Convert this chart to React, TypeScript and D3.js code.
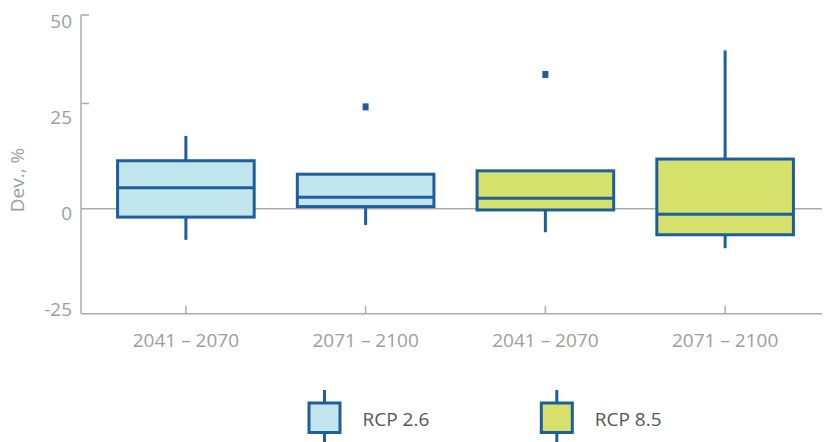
import React from "react";
import * as d3 from "d3";

// Period labels along the x axis, one per box
const categories = ["2041 – 2070", "2071 – 2100", "2041 – 2070", "2071 – 2100"];
// Scenario each box belongs to
const scenarios = ["RCP 2.6", "RCP 2.6", "RCP 8.5", "RCP 8.5"];
// Five-number summaries (deviation, %)
const mins = [-7.4, -3.9, -5.6, -9.4];
const q1s = [-2.0, 0.5, -0.3, -6.2];
const medians = [5.0, 2.7, 2.5, -1.3];
const q3s = [11.4, 8.2, 9.0, 11.8];
const maxs = [17.3, 8.2, 9.0, 40.0];
// Single outliers (null where none)
const outliers: (number | null)[] = [null, 24.2, 33.2, null];
// Y axis ticks
const yTicks = [-25, 0, 25, 50];
// Legend entries
const legendItems = ["RCP 2.6", "RCP 8.5"];

const W = 824;
const H = 442;
const FONT = "'Open Sans', sans-serif";
const TEXT = "#9d9d9d";
const AXIS = "#ababab";
const STROKE = "#1f5e9c";
const fills: Record<string, string> = {
  "RCP 2.6": "#c2e6ee",
  "RCP 8.5": "#d5e16a",
};

export default function App() {
  const axisX = 81;
  const axisRight = 822;

  const y = d3
    .scaleLinear()
    .domain([-25, 0, 25, 50])
    .range([313.8, 208.7, 103.5, 15]);
  const yLabel = d3.scaleLinear().domain([-25, 50]).range([308.5, 21]);

  const x = d3
    .scaleBand<number>()
    .domain(categories.map((_, i) => i))
    .range([96, 815])
    .paddingInner(0.24)
    .paddingOuter(0.12);

  const boxW = x.bandwidth();

  return (
    <svg
      width={W}
      height={H}
      style={{ position: "absolute", left: 0, top: 0, fontFamily: FONT }}
    >
      {/* zero reference line */}
      <line x1={axisX} x2={axisRight} y1={y(0)} y2={y(0)} stroke={AXIS} strokeWidth={1.5} />

      {/* y axis */}
      <line x1={axisX} x2={axisX} y1={y(50)} y2={y(-25)} stroke={AXIS} strokeWidth={1.5} />
      {yTicks.map((t) => (
        <g key={t}>
          {t > 0 && (
            <line x1={axisX} x2={axisX + 8} y1={y(t)} y2={y(t)} stroke={AXIS} strokeWidth={1.5} />
          )}
          <text
            x={72}
            y={yLabel(t)}
            textAnchor="end"
            dominantBaseline="central"
            fontSize={19}
            fill={TEXT}
          >
            {t}
          </text>
        </g>
      ))}
      <text
        transform={`translate(24,180) rotate(-90)`}
        textAnchor="middle"
        fontSize={19}
        fill={TEXT}
      >
        Dev., %
      </text>

      {/* x axis */}
      <line x1={axisX} x2={axisRight} y1={y(-25)} y2={y(-25)} stroke={AXIS} strokeWidth={1.5} />
      {categories.map((c, i) => {
        const cx = (x(i) as number) + boxW / 2;
        return (
          <g key={i}>
            <line x1={cx} x2={cx} y1={y(-25)} y2={y(-25) - 8} stroke={AXIS} strokeWidth={1.5} />
            <text x={cx} y={347} textAnchor="middle" fontSize={19} fill={TEXT}>
              {c}
            </text>
          </g>
        );
      })}

      {/* boxes */}
      {categories.map((_, i) => {
        const x0 = x(i) as number;
        const cx = x0 + boxW / 2;
        return (
          <g key={i}>
            {maxs[i] > q3s[i] && (
              <line x1={cx} x2={cx} y1={y(maxs[i])} y2={y(q3s[i])} stroke={STROKE} strokeWidth={3} />
            )}
            {mins[i] < q1s[i] && (
              <line x1={cx} x2={cx} y1={y(q1s[i])} y2={y(mins[i])} stroke={STROKE} strokeWidth={3} />
            )}
            <rect
              x={x0}
              y={y(q3s[i])}
              width={boxW}
              height={y(q1s[i]) - y(q3s[i])}
              fill={fills[scenarios[i]]}
              stroke={STROKE}
              strokeWidth={3}
            />
            <line x1={x0} x2={x0 + boxW} y1={y(medians[i])} y2={y(medians[i])} stroke={STROKE} strokeWidth={3} />
            {outliers[i] != null && (
              <rect
                x={cx - 3}
                y={y(outliers[i] as number) - 3.5}
                width={6}
                height={7}
                fill={STROKE}
              />
            )}
          </g>
        );
      })}

      {/* legend */}
      {legendItems.map((name, i) => {
        const lx = 324.5 + i * 232.3;
        return (
          <g key={name}>
            <line x1={lx} x2={lx} y1={390} y2={H} stroke={STROKE} strokeWidth={3} />
            <rect
              x={lx - 15.5}
              y={403}
              width={31}
              height={29.5}
              fill={fills[name]}
              stroke={STROKE}
              strokeWidth={3}
            />
            <text x={lx + 38} y={426} fontSize={19} fill="#555555">
              {name}
            </text>
          </g>
        );
      })}
    </svg>
  );
}
